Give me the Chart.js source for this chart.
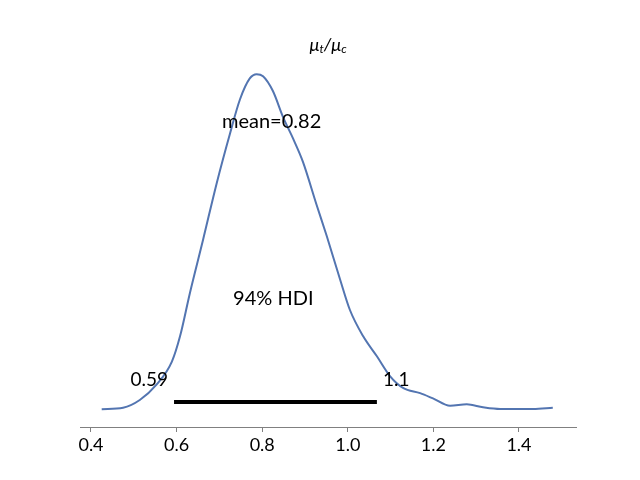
<!DOCTYPE html>
<html>
<head>
<meta charset="utf-8">
<script src="https://cdn.jsdelivr.net/npm/chart.js@4.4.1/dist/chart.umd.min.js"></script>
<style>
  html, body { margin: 0; padding: 0; background: #fff; }
</style>
</head>
<body>
<canvas id="post" width="640" height="480"></canvas>
<script>
// posterior density of mu_t / mu_c
const xs = [0.425, 0.475, 0.514, 0.553, 0.589, 0.608, 0.631, 0.662, 0.694, 0.725, 0.748, 0.771, 0.787, 0.802,
            0.825, 0.849, 0.872, 0.895, 0.927, 0.951, 0.982, 1.005, 1.036, 1.068, 1.099, 1.129, 1.169, 1.199,
            1.239, 1.278, 1.316, 1.356, 1.433, 1.479];
const density = [0.008, 0.022, 0.095, 0.24, 0.46, 0.70, 1.11, 1.62, 2.16, 2.63, 2.95, 3.15, 3.19, 3.17,
                 3.03, 2.78, 2.58, 2.36, 1.95, 1.65, 1.24, 0.95, 0.70, 0.51, 0.32, 0.21, 0.16, 0.11,
                 0.04, 0.054, 0.026, 0.01, 0.01, 0.022];
const hdi = [0.594, 1.068];
const hdiLabels = ['0.59', '1.1'];
const meanLabel = 'mean=0.82';
const hdiText = '94% HDI';
const xTicks = [0.4, 0.6, 0.8, 1.0, 1.2, 1.4];

const FONT = 'Lato, "Open Sans", sans-serif';
const barY = 0.076;

const points = xs.map((x, i) => ({ x: x, y: density[i] }));

const textPlugin = {
  id: 'posteriorText',
  afterDatasetsDraw(chart) {
    const c = chart.ctx;
    const sx = chart.scales.x, sy = chart.scales.y;
    c.save();
    c.fillStyle = '#000';
    c.textBaseline = 'middle';
    c.textAlign = 'center';
    c.font = '20px ' + FONT;
    c.fillText(meanLabel, sx.getPixelForValue(0.822), sy.getPixelForValue(2.74));
    c.fillText(hdiText, sx.getPixelForValue(0.826), sy.getPixelForValue(1.06));
    c.font = '19px ' + FONT;
    c.textAlign = 'right';
    c.fillText(hdiLabels[0], sx.getPixelForValue(hdi[0]) - 6, sy.getPixelForValue(0.285));
    c.textAlign = 'left';
    c.fillText(hdiLabels[1], sx.getPixelForValue(hdi[1]) + 6, sy.getPixelForValue(0.285));

    // title: mu_t / mu_c
    const ca = chart.chartArea;
    const cx = (ca.left + ca.right) / 2;
    const ty = 45;
    const big = 'italic 18px ' + FONT, small = 'italic 12px ' + FONT;
    const parts = [['μ', big, 0], ['t', small, 4], ['/', big, 0], ['μ', big, 0], ['c', small, 4]];
    let w = 0;
    parts.forEach(p => { c.font = p[1]; w += c.measureText(p[0]).width; });
    let px = cx - w / 2;
    c.textAlign = 'left';
    parts.forEach(p => {
      c.font = p[1];
      c.fillText(p[0], px, ty + p[2]);
      px += c.measureText(p[0]).width;
    });
    c.restore();
  }
};

new Chart(document.getElementById('post'), {
  type: 'scatter',
  data: {
    datasets: [
      {
        data: points,
        showLine: true,
        borderColor: '#5375b1',
        borderWidth: 2,
        pointRadius: 0,
        tension: 0.4,
        cubicInterpolationMode: 'monotone'
      },
      {
        data: [{ x: hdi[0], y: barY }, { x: hdi[1], y: barY }],
        showLine: true,
        borderColor: '#000',
        borderWidth: 4,
        borderCapStyle: 'butt',
        pointRadius: 0
      }
    ]
  },
  options: {
    responsive: false,
    animation: false,
    devicePixelRatio: 1,
    layout: { padding: { left: 80, right: 64, top: 58, bottom: 0 } },
    plugins: { legend: { display: false }, tooltip: { enabled: false } },
    scales: {
      x: {
        type: 'linear',
        min: 0.3743,
        max: 1.5332,
        afterBuildTicks: (s) => { s.ticks = xTicks.map(v => ({ value: v })); },
        afterFit: (s) => { s.height = 53; },
        grid: { drawOnChartArea: false, drawTicks: true, tickLength: 5, color: '#808080' },
        border: { color: '#808080', width: 1 },
        ticks: {
          color: '#000',
          padding: 2,
          font: { family: FONT, size: 18 },
          callback: (v) => v.toFixed(1)
        }
      },
      y: {
        display: false,
        min: -0.1615,
        max: 3.344
      }
    }
  },
  plugins: [textPlugin]
});
</script>
</body>
</html>
